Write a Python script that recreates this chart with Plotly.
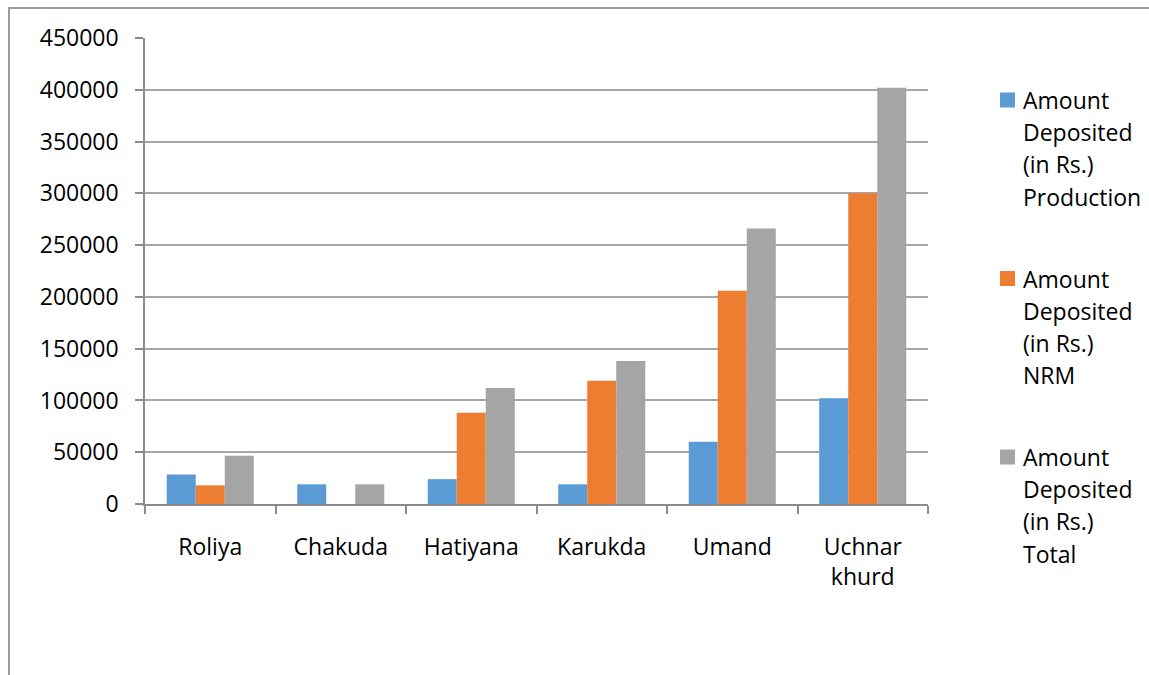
import plotly.graph_objects as go

# Villages (x categories)
villages = ["Roliya", "Chakuda", "Hatiyana", "Karukda", "Umand", "Uchnar<br>khurd"]

# Amount deposited (in Rs.) per village
production = [28500, 19000, 24000, 19000, 60000, 102000]
nrm = [18000, 0, 88000, 119000, 206000, 300000]
total = [46500, 19000, 112000, 138000, 266000, 402000]

series_names = [
    "Amount<br>Deposited<br>(in Rs.)<br>Production",
    "Amount<br>Deposited<br>(in Rs.)<br>NRM",
    "Amount<br>Deposited<br>(in Rs.)<br>Total",
]
series_values = [production, nrm, total]
series_colors = ["#5B9BD5", "#ED7D31", "#A5A5A5"]

y_ticks = list(range(0, 450001, 50000))

W, H = 1149, 675
L, R, T, B = 145, 221, 38, 171
pw, ph = W - L - R, H - T - B


def px_x(x):
    return (x - L) / pw


def px_y(y):
    return 1 - (y - T) / ph


fig = go.Figure()
for name, vals, col in zip(series_names, series_values, series_colors):
    fig.add_trace(go.Bar(
        x=villages, y=vals, name=name.replace("<br>", " "),
        marker=dict(color=col, line=dict(width=0)),
        showlegend=False,
    ))

axis_grey = "#8c8c8c"
font_family = "Open Sans, Lato, sans-serif"

# Legend on the right: square swatch plus wrapped label, one line per annotation
shapes = []
annotations = []
item_top, item_step, line_step, sw = 100, 178.5, 32.2, 15
for i, (name, col) in enumerate(zip(series_names, series_colors)):
    y0 = item_top + item_step * i
    shapes.append(dict(
        type="rect", xref="paper", yref="paper",
        x0=px_x(1000), x1=px_x(1000 + sw),
        y0=px_y(y0 - sw / 2), y1=px_y(y0 + sw / 2),
        fillcolor=col, line=dict(width=0),
    ))
    for k, line in enumerate(name.split("<br>")):
        annotations.append(dict(
            xref="paper", yref="paper", x=px_x(1021), y=px_y(y0 + line_step * k),
            xanchor="left", yanchor="middle", showarrow=False, text=line,
            font=dict(family=font_family, size=23, color="#000000"),
        ))

# chart-area frame
shapes.append(dict(
    type="rect", xref="paper", yref="paper", layer="below",
    x0=px_x(9), x1=px_x(W + 20),
    y0=px_y(H + 20), y1=px_y(8),
    line=dict(color="#9a9a9a", width=2),
    fillcolor="rgba(0,0,0,0)",
))

fig.update_layout(
    width=W, height=H,
    margin=dict(l=L, r=R, t=T, b=B, autoexpand=False),
    paper_bgcolor="white", plot_bgcolor="white",
    barmode="group", bargap=0.333, bargroupgap=0,
    font=dict(family=font_family, size=23, color="#000000"),
    showlegend=False,
    xaxis=dict(
        showline=True, linecolor=axis_grey, linewidth=1.5,
        ticks="outside", tickson="boundaries", ticklen=8, tickcolor=axis_grey,
        tickwidth=1.5, ticklabelstandoff=22,
        showgrid=False, zeroline=False,
    ),
    yaxis=dict(
        range=[0, 450000], tickvals=y_ticks,
        ticktext=[str(v) for v in y_ticks],
        showline=True, linecolor=axis_grey, linewidth=1.5,
        ticks="outside", ticklen=8, tickcolor=axis_grey, tickwidth=1.5,
        ticklabelstandoff=12,
        showgrid=True, gridcolor="#a6a6a6", gridwidth=1.5,
        zeroline=False,
    ),
    shapes=shapes,
    annotations=annotations,
)

fig.write_html("out.html")
